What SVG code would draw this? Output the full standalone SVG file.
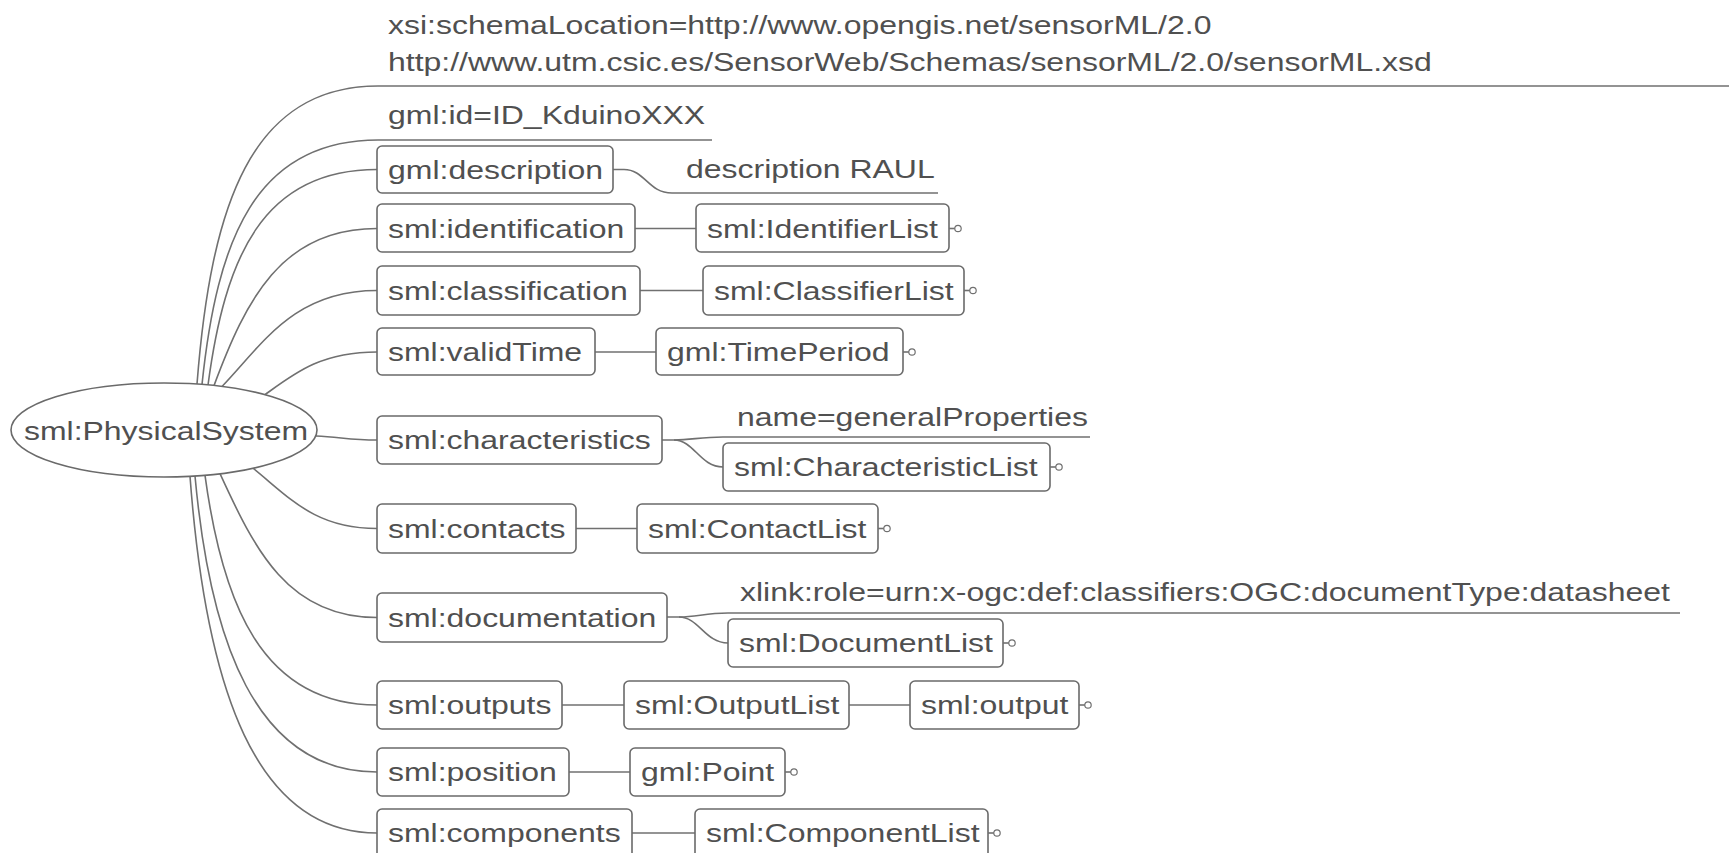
<svg xmlns="http://www.w3.org/2000/svg" width="1729" height="853" viewBox="0 0 1729 853">
<style>
  .t { font-family: "Liberation Sans", Arial, sans-serif; font-size: 26px; fill: #505050; }
  .box { fill: #ffffff; stroke: #6a6a6a; stroke-width: 1.6; }
  .c { fill: none; stroke: #707070; stroke-width: 1.6; }
  .dot { fill: #ffffff; stroke: #707070; stroke-width: 1.2; }
</style>
<rect x="0" y="0" width="1729" height="853" fill="#ffffff"/>

<g id="connectors">
  <path class="c" d="M197,384 C211,205 251,86 378,86 L1729,86"/>
  <path class="c" d="M202,384.5 C217,240 255,140 378,140 L712,140"/>
  <path class="c" d="M208,385 C225,258 262,169.5 377,169.5"/>
  <path class="c" d="M214,385.6 C246,300 281,228.5 377,228.5"/>
  <path class="c" d="M222,386.5 C262,345 293,290.5 377,290.5"/>
  <path class="c" d="M265,394.7 C295,373 321,352 377,352"/>
  <path class="c" d="M316,436 C340,437 350,440 377,440"/>
  <path class="c" d="M253,468.2 C290,498 315,528.5 377,528.5"/>
  <path class="c" d="M220,473.7 C255,550 288,617.5 377,617.5"/>
  <path class="c" d="M205,475.3 C222,600 260,705 377,705"/>
  <path class="c" d="M195,476 C210,640 255,772 377,772"/>
  <path class="c" d="M190,476.3 C206,690 256,833 377,833"/>
  <path class="c" d="M613,169.5 L624,169.5 C645,169.5 648,193 672,193 L938,193"/>
  <path class="c" d="M635,228.5 L696,228.5"/>
  <path class="c" d="M640,290.5 L703,290.5"/>
  <path class="c" d="M595,352 L656,352"/>
  <path class="c" d="M662,440 L674,440 C692,440 700,437 723,437 L1090,437"/>
  <path class="c" d="M674,440 C694,440 700,467 723,467"/>
  <path class="c" d="M576,528.5 L637,528.5"/>
  <path class="c" d="M667,617 L679,617 C697,617 705,613 728,613 L1680,613"/>
  <path class="c" d="M679,617 C699,617 705,643 728,643"/>
  <path class="c" d="M562,705 L624,705"/>
  <path class="c" d="M849,705 L910,705"/>
  <path class="c" d="M569,772 L630,772"/>
  <path class="c" d="M632,833 L695,833"/>
</g>

<g id="root">
  <ellipse class="box" cx="164" cy="430" rx="153" ry="47"/>
  <text class="t" text-anchor="middle" transform="translate(166,440) scale(1.23,1)">sml:PhysicalSystem</text>
</g>

<g id="attr-schemaLocation">
  <text class="t" transform="translate(388,34) scale(1.23,1)">xsi:schemaLocation=http://www.opengis.net/sensorML/2.0</text>
  <text class="t" transform="translate(388,71) scale(1.23,1)">http://www.utm.csic.es/SensorWeb/Schemas/sensorML/2.0/sensorML.xsd</text>
</g>
<g id="attr-gmlid">
  <text class="t" transform="translate(388,124) scale(1.23,1)">gml:id=ID_KduinoXXX</text>
</g>

<g id="gml-description">
  <rect class="box" x="377" y="146" width="236" height="47" rx="5"/>
  <text class="t" transform="translate(388,179) scale(1.23,1)">gml:description</text>
</g>
<g id="description-value">
  <text class="t" transform="translate(686,178) scale(1.23,1)">description RAUL</text>
</g>

<g id="sml-identification">
  <rect class="box" x="377" y="204" width="258" height="48" rx="5"/>
  <text class="t" transform="translate(388,238) scale(1.23,1)">sml:identification</text>
</g>
<g id="sml-IdentifierList">
  <rect class="box" x="696" y="204" width="253" height="48" rx="5"/>
  <text class="t" transform="translate(707,238) scale(1.23,1)">sml:IdentifierList</text>
  <path class="c" d="M949,228.5 L955,228.5"/><circle class="dot" cx="958" cy="228.5" r="3.2"/>
</g>

<g id="sml-classification">
  <rect class="box" x="377" y="266" width="263" height="49" rx="5"/>
  <text class="t" transform="translate(388,300) scale(1.23,1)">sml:classification</text>
</g>
<g id="sml-ClassifierList">
  <rect class="box" x="703" y="266" width="261" height="49" rx="5"/>
  <text class="t" transform="translate(714,300) scale(1.23,1)">sml:ClassifierList</text>
  <path class="c" d="M964,290.5 L970,290.5"/><circle class="dot" cx="973" cy="290.5" r="3.2"/>
</g>

<g id="sml-validTime">
  <rect class="box" x="377" y="328" width="218" height="47" rx="5"/>
  <text class="t" transform="translate(388,361) scale(1.23,1)">sml:validTime</text>
</g>
<g id="gml-TimePeriod">
  <rect class="box" x="656" y="328" width="247" height="47" rx="5"/>
  <text class="t" transform="translate(667,361) scale(1.23,1)">gml:TimePeriod</text>
  <path class="c" d="M903,352 L909,352"/><circle class="dot" cx="912" cy="352" r="3.2"/>
</g>

<g id="sml-characteristics">
  <rect class="box" x="377" y="416" width="285" height="48" rx="5"/>
  <text class="t" transform="translate(388,449) scale(1.23,1)">sml:characteristics</text>
</g>
<g id="attr-name">
  <text class="t" transform="translate(737,426) scale(1.23,1)">name=generalProperties</text>
</g>
<g id="sml-CharacteristicList">
  <rect class="box" x="723" y="443" width="327" height="48" rx="5"/>
  <text class="t" transform="translate(734,476) scale(1.23,1)">sml:CharacteristicList</text>
  <path class="c" d="M1050,467 L1056,467"/><circle class="dot" cx="1059" cy="467" r="3.2"/>
</g>

<g id="sml-contacts">
  <rect class="box" x="377" y="504" width="199" height="49" rx="5"/>
  <text class="t" transform="translate(388,538) scale(1.23,1)">sml:contacts</text>
</g>
<g id="sml-ContactList">
  <rect class="box" x="637" y="504" width="241" height="49" rx="5"/>
  <text class="t" transform="translate(648,538) scale(1.23,1)">sml:ContactList</text>
  <path class="c" d="M878,528.5 L884,528.5"/><circle class="dot" cx="887" cy="528.5" r="3.2"/>
</g>

<g id="sml-documentation">
  <rect class="box" x="377" y="593" width="290" height="49" rx="5"/>
  <text class="t" transform="translate(388,627) scale(1.23,1)">sml:documentation</text>
</g>
<g id="attr-xlinkrole">
  <text class="t" transform="translate(740,601) scale(1.23,1)">xlink:role=urn:x-ogc:def:classifiers:OGC:documentType:datasheet</text>
</g>
<g id="sml-DocumentList">
  <rect class="box" x="728" y="619" width="275" height="48" rx="5"/>
  <text class="t" transform="translate(739,652) scale(1.23,1)">sml:DocumentList</text>
  <path class="c" d="M1003,643 L1009,643"/><circle class="dot" cx="1012" cy="643" r="3.2"/>
</g>

<g id="sml-outputs">
  <rect class="box" x="377" y="681" width="185" height="48" rx="5"/>
  <text class="t" transform="translate(388,714) scale(1.23,1)">sml:outputs</text>
</g>
<g id="sml-OutputList">
  <rect class="box" x="624" y="681" width="225" height="48" rx="5"/>
  <text class="t" transform="translate(635,714) scale(1.23,1)">sml:OutputList</text>
</g>
<g id="sml-output">
  <rect class="box" x="910" y="681" width="169" height="48" rx="5"/>
  <text class="t" transform="translate(921,714) scale(1.23,1)">sml:output</text>
  <path class="c" d="M1079,705 L1085,705"/><circle class="dot" cx="1088" cy="705" r="3.2"/>
</g>

<g id="sml-position">
  <rect class="box" x="377" y="748" width="192" height="48" rx="5"/>
  <text class="t" transform="translate(388,781) scale(1.23,1)">sml:position</text>
</g>
<g id="gml-Point">
  <rect class="box" x="630" y="748" width="155" height="48" rx="5"/>
  <text class="t" transform="translate(641,781) scale(1.23,1)">gml:Point</text>
  <path class="c" d="M785,772 L791,772"/><circle class="dot" cx="794" cy="772" r="3.2"/>
</g>

<g id="sml-components">
  <rect class="box" x="377" y="809" width="255" height="49" rx="5"/>
  <text class="t" transform="translate(388,842) scale(1.23,1)">sml:components</text>
</g>
<g id="sml-ComponentList">
  <rect class="box" x="695" y="809" width="293" height="49" rx="5"/>
  <text class="t" transform="translate(706,842) scale(1.23,1)">sml:ComponentList</text>
  <path class="c" d="M988,833 L994,833"/><circle class="dot" cx="997" cy="833" r="3.2"/>
</g>
</svg>
